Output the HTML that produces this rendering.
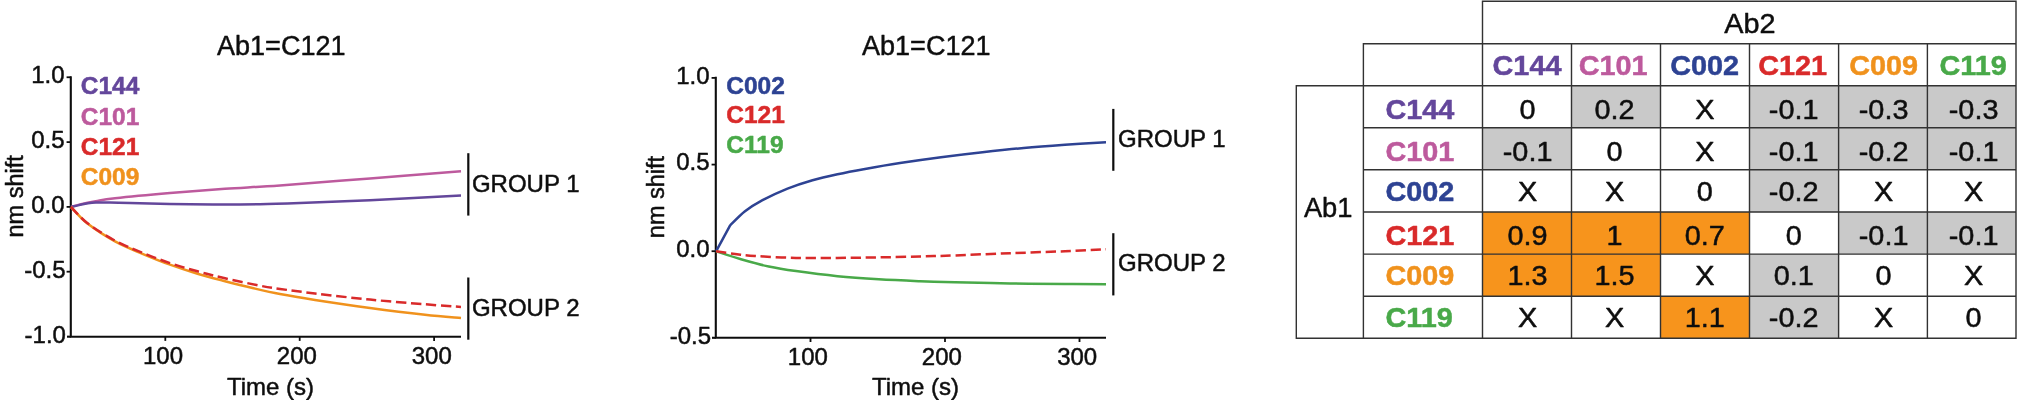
<!DOCTYPE html>
<html lang="en"><head><meta charset="utf-8"><title>Ab1=C121 competition</title>
<style>html,body{margin:0;padding:0;background:#fff;overflow:hidden;}svg{display:block}text{font-family:"Liberation Sans", Arial, Helvetica, sans-serif;stroke-width:0.5px;stroke-linejoin:round;}</style>
</head><body>
<svg width="2017" height="400" viewBox="0 0 2017 400">
<rect x="0" y="0" width="2017" height="400" fill="#ffffff"/>
<defs><filter id="soft" x="0" y="0" width="2017" height="400" filterUnits="userSpaceOnUse"><feGaussianBlur stdDeviation="0.45"/></filter></defs>
<g filter="url(#soft)">
<g id="chart-left">
<path d="M70.80,76.20 V336.70 H461.00" fill="none" stroke="#111111" stroke-width="2.1" stroke-linejoin="miter"/>
<line x1="66.60" y1="77.25" x2="70.80" y2="77.25" stroke="#111111" stroke-width="1.8"/>
<line x1="66.60" y1="142.10" x2="70.80" y2="142.10" stroke="#111111" stroke-width="1.8"/>
<line x1="66.60" y1="206.90" x2="70.80" y2="206.90" stroke="#111111" stroke-width="1.8"/>
<line x1="66.60" y1="271.70" x2="70.80" y2="271.70" stroke="#111111" stroke-width="1.8"/>
<line x1="165.30" y1="336.70" x2="165.30" y2="340.90" stroke="#111111" stroke-width="1.8"/>
<line x1="299.70" y1="336.70" x2="299.70" y2="340.90" stroke="#111111" stroke-width="1.8"/>
<line x1="434.10" y1="336.70" x2="434.10" y2="340.90" stroke="#111111" stroke-width="1.8"/>
<line x1="67.00" y1="336.70" x2="70.80" y2="336.70" stroke="#111111" stroke-width="2.1"/>
<text x="31.18" y="82.60" font-size="24" fill="#111111" stroke="#111111">1.0</text>
<text x="31.18" y="147.60" font-size="24" fill="#111111" stroke="#111111">0.5</text>
<text x="31.18" y="212.60" font-size="24" fill="#111111" stroke="#111111">0.0</text>
<text x="24.19" y="277.60" font-size="24" fill="#111111" stroke="#111111">-0.5</text>
<text x="24.59" y="342.60" font-size="24" fill="#111111" stroke="#111111">-1.0</text>
<text x="142.95" y="364.20" font-size="24" fill="#111111" stroke="#111111">100</text>
<text x="276.85" y="364.20" font-size="24" fill="#111111" stroke="#111111">200</text>
<text x="411.75" y="364.20" font-size="24" fill="#111111" stroke="#111111">300</text>
<text x="217.08" y="54.80" font-size="27" fill="#111111" stroke="#111111">Ab1=C121</text>
<text x="226.95" y="394.50" font-size="24" fill="#111111" stroke="#111111">Time (s)</text>
<text transform="translate(23.30,237.47) rotate(-90) scale(1.0000,1)" font-size="23.5" fill="#111111" stroke="#111111">nm shift</text>
<path d="M71.00,207.00 C72.50,206.57 75.88,205.37 80.00,204.40 C84.12,203.43 89.87,202.23 95.70,201.20 C101.53,200.17 102.62,199.57 115.00,198.20 C127.38,196.83 151.67,194.57 170.00,193.00 C188.33,191.43 206.67,190.07 225.00,188.80 C243.33,187.53 255.83,187.13 280.00,185.40 C304.17,183.67 339.83,180.75 370.00,178.40 C400.17,176.05 445.83,172.48 461.00,171.30" fill="none" stroke="#bd5a9d" stroke-width="2.5" stroke-linecap="butt" stroke-linejoin="round"/>
<path d="M71.00,207.00 C72.50,206.65 77.17,205.52 80.00,204.90 C82.83,204.28 85.33,203.68 88.00,203.30 C90.67,202.92 92.33,202.73 96.00,202.60 C99.67,202.47 104.33,202.45 110.00,202.50 C115.67,202.55 121.67,202.68 130.00,202.90 C138.33,203.12 150.00,203.57 160.00,203.80 C170.00,204.03 179.17,204.20 190.00,204.30 C200.83,204.40 213.33,204.42 225.00,204.40 C236.67,204.38 247.50,204.43 260.00,204.20 C272.50,203.97 281.67,203.65 300.00,203.00 C318.33,202.35 343.17,201.53 370.00,200.30 C396.83,199.07 445.83,196.38 461.00,195.60" fill="none" stroke="#64469b" stroke-width="2.5" stroke-linecap="butt" stroke-linejoin="round"/>
<path d="M71.00,207.00 C73.75,209.77 80.17,217.87 87.50,223.60 C94.83,229.33 105.83,236.37 115.00,241.40 C124.17,246.43 133.33,249.92 142.50,253.80 C151.67,257.68 160.83,261.37 170.00,264.70 C179.17,268.03 188.33,271.05 197.50,273.80 C206.67,276.55 215.83,278.83 225.00,281.20 C234.17,283.57 243.33,285.87 252.50,288.00 C261.67,290.13 269.58,292.02 280.00,294.00 C290.42,295.98 300.00,297.58 315.00,299.90 C330.00,302.22 351.67,305.43 370.00,307.90 C388.33,310.37 409.83,313.02 425.00,314.70 C440.17,316.38 455.00,317.45 461.00,318.00" fill="none" stroke="#f0921f" stroke-width="2.5" stroke-linecap="butt" stroke-linejoin="round"/>
<path d="M71.00,207.00 C73.75,209.70 80.17,217.58 87.50,223.20 C94.83,228.82 105.83,235.77 115.00,240.70 C124.17,245.63 133.33,249.07 142.50,252.80 C151.67,256.53 160.83,260.02 170.00,263.10 C179.17,266.18 188.33,268.77 197.50,271.30 C206.67,273.83 214.58,275.90 225.00,278.30 C235.42,280.70 250.83,283.93 260.00,285.70 C269.17,287.47 270.83,287.60 280.00,288.90 C289.17,290.20 300.00,291.72 315.00,293.50 C330.00,295.28 351.67,297.80 370.00,299.60 C388.33,301.40 409.83,303.08 425.00,304.30 C440.17,305.52 455.00,306.47 461.00,306.90" fill="none" stroke="#d92a2a" stroke-width="2.5" stroke-linecap="butt" stroke-linejoin="round" stroke-dasharray="10.3 4.7"/>
<text x="80.70" y="94.40" font-size="24.5" font-weight="bold" fill="#64469b" stroke="#64469b">C144</text>
<text x="80.70" y="125.30" font-size="24.5" font-weight="bold" fill="#bd5a9d" stroke="#bd5a9d">C101</text>
<text x="80.70" y="155.00" font-size="24.5" font-weight="bold" fill="#d92a2a" stroke="#d92a2a">C121</text>
<text x="80.70" y="184.80" font-size="24.5" font-weight="bold" fill="#f0921f" stroke="#f0921f">C009</text>
<line x1="468.30" y1="153.20" x2="468.30" y2="215.60" stroke="#111111" stroke-width="2.2"/>
<text x="471.90" y="191.60" font-size="24" fill="#111111" stroke="#111111">GROUP 1</text>
<line x1="468.30" y1="277.50" x2="468.30" y2="339.70" stroke="#111111" stroke-width="2.2"/>
<text x="471.90" y="316.00" font-size="24" fill="#111111" stroke="#111111">GROUP 2</text>
</g>
<g id="chart-mid">
<path d="M715.80,76.85 V337.80 H1106.00" fill="none" stroke="#111111" stroke-width="2.1" stroke-linejoin="miter"/>
<line x1="711.60" y1="77.90" x2="715.80" y2="77.90" stroke="#111111" stroke-width="1.8"/>
<line x1="711.60" y1="164.60" x2="715.80" y2="164.60" stroke="#111111" stroke-width="1.8"/>
<line x1="711.60" y1="251.20" x2="715.80" y2="251.20" stroke="#111111" stroke-width="1.8"/>
<line x1="810.50" y1="337.80" x2="810.50" y2="342.00" stroke="#111111" stroke-width="1.8"/>
<line x1="945.00" y1="337.80" x2="945.00" y2="342.00" stroke="#111111" stroke-width="1.8"/>
<line x1="1079.50" y1="337.80" x2="1079.50" y2="342.00" stroke="#111111" stroke-width="1.8"/>
<line x1="712.00" y1="337.80" x2="715.80" y2="337.80" stroke="#111111" stroke-width="2.1"/>
<text x="676.18" y="83.50" font-size="24" fill="#111111" stroke="#111111">1.0</text>
<text x="676.18" y="170.30" font-size="24" fill="#111111" stroke="#111111">0.5</text>
<text x="676.18" y="256.90" font-size="24" fill="#111111" stroke="#111111">0.0</text>
<text x="669.79" y="343.50" font-size="24" fill="#111111" stroke="#111111">-0.5</text>
<text x="787.85" y="365.30" font-size="24" fill="#111111" stroke="#111111">100</text>
<text x="921.85" y="365.30" font-size="24" fill="#111111" stroke="#111111">200</text>
<text x="1057.15" y="365.30" font-size="24" fill="#111111" stroke="#111111">300</text>
<text x="862.08" y="54.80" font-size="27" fill="#111111" stroke="#111111">Ab1=C121</text>
<text x="871.95" y="394.50" font-size="24" fill="#111111" stroke="#111111">Time (s)</text>
<text transform="translate(664.20,238.17) rotate(-90) scale(1.0000,1)" font-size="23.5" fill="#111111" stroke="#111111">nm shift</text>
<path d="M716.2,251.2 L730,225.6 C732.50,223.22 739.58,215.53 745.00,211.30 C750.42,207.07 755.42,203.98 762.50,200.20 C769.58,196.42 779.17,191.93 787.50,188.60 C795.83,185.27 804.17,182.60 812.50,180.20 C820.83,177.80 828.75,176.08 837.50,174.20 C846.25,172.32 854.58,170.77 865.00,168.90 C875.42,167.03 887.33,164.95 900.00,163.00 C912.67,161.05 927.25,159.00 941.00,157.20 C954.75,155.40 968.71,153.73 982.50,152.20 C996.29,150.67 1010.00,149.23 1023.75,148.00 C1037.50,146.77 1051.29,145.77 1065.00,144.80 C1078.71,143.83 1099.17,142.63 1106.00,142.20" fill="none" stroke="#2d4393" stroke-width="2.5" stroke-linejoin="round"/>
<path d="M716.00,251.30 C720.17,252.63 732.21,256.77 741.00,259.30 C749.79,261.83 759.58,264.53 768.75,266.50 C777.92,268.47 784.54,269.48 796.00,271.10 C807.46,272.72 823.71,274.83 837.50,276.20 C851.29,277.57 865.00,278.47 878.75,279.30 C892.50,280.13 907.29,280.70 920.00,281.20 C932.71,281.70 940.00,281.93 955.00,282.30 C970.00,282.67 991.67,283.12 1010.00,283.40 C1028.33,283.68 1049.00,283.86 1065.00,284.00 C1081.00,284.14 1099.17,284.21 1106.00,284.25" fill="none" stroke="#48a948" stroke-width="2.5" stroke-linecap="butt" stroke-linejoin="round"/>
<path d="M716.00,251.30 C719.17,251.75 728.50,253.22 735.00,254.00 C741.50,254.78 744.83,255.35 755.00,256.00 C765.17,256.65 782.25,257.58 796.00,257.90 C809.75,258.22 823.71,257.98 837.50,257.90 C851.29,257.82 865.00,257.63 878.75,257.40 C892.50,257.17 907.29,256.83 920.00,256.50 C932.71,256.17 940.00,255.95 955.00,255.40 C970.00,254.85 991.67,253.89 1010.00,253.20 C1028.33,252.51 1049.00,251.90 1065.00,251.25 C1081.00,250.60 1099.17,249.62 1106.00,249.30" fill="none" stroke="#d92a2a" stroke-width="2.5" stroke-linecap="butt" stroke-linejoin="round" stroke-dasharray="10.3 4.7"/>
<text x="726.30" y="93.50" font-size="24.5" font-weight="bold" fill="#2d4393" stroke="#2d4393">C002</text>
<text x="726.30" y="123.00" font-size="24.5" font-weight="bold" fill="#d92a2a" stroke="#d92a2a">C121</text>
<text x="726.30" y="152.60" font-size="24.5" font-weight="bold" fill="#48a948" stroke="#48a948">C119</text>
<line x1="1113.30" y1="108.90" x2="1113.30" y2="170.80" stroke="#111111" stroke-width="2.2"/>
<text x="1118.00" y="146.80" font-size="24" fill="#111111" stroke="#111111">GROUP 1</text>
<line x1="1113.30" y1="233.20" x2="1113.30" y2="295.40" stroke="#111111" stroke-width="2.2"/>
<text x="1118.00" y="270.70" font-size="24" fill="#111111" stroke="#111111">GROUP 2</text>
</g>
<g id="table">
<rect x="1571.50" y="85.80" width="89.00" height="41.90" fill="#c9c9c9"/>
<rect x="1749.50" y="85.80" width="89.10" height="41.90" fill="#c9c9c9"/>
<rect x="1838.60" y="85.80" width="88.80" height="41.90" fill="#c9c9c9"/>
<rect x="1927.40" y="85.80" width="88.60" height="41.90" fill="#c9c9c9"/>
<rect x="1482.50" y="127.70" width="89.00" height="42.10" fill="#c9c9c9"/>
<rect x="1749.50" y="127.70" width="89.10" height="42.10" fill="#c9c9c9"/>
<rect x="1838.60" y="127.70" width="88.80" height="42.10" fill="#c9c9c9"/>
<rect x="1927.40" y="127.70" width="88.60" height="42.10" fill="#c9c9c9"/>
<rect x="1749.50" y="169.80" width="89.10" height="42.20" fill="#c9c9c9"/>
<rect x="1482.50" y="212.00" width="89.00" height="42.10" fill="#f7941d"/>
<rect x="1571.50" y="212.00" width="89.00" height="42.10" fill="#f7941d"/>
<rect x="1660.50" y="212.00" width="89.00" height="42.10" fill="#f7941d"/>
<rect x="1838.60" y="212.00" width="88.80" height="42.10" fill="#c9c9c9"/>
<rect x="1927.40" y="212.00" width="88.60" height="42.10" fill="#c9c9c9"/>
<rect x="1482.50" y="254.10" width="89.00" height="42.20" fill="#f7941d"/>
<rect x="1571.50" y="254.10" width="89.00" height="42.20" fill="#f7941d"/>
<rect x="1749.50" y="254.10" width="89.10" height="42.20" fill="#c9c9c9"/>
<rect x="1660.50" y="296.30" width="89.00" height="42.00" fill="#f7941d"/>
<rect x="1749.50" y="296.30" width="89.10" height="42.00" fill="#c9c9c9"/>
<path d="M1481.80,1.30 H2016.70 M1362.70,43.75 H2016.70 M1295.60,85.80 H2016.70 M1363.40,127.70 H2016.00 M1363.40,169.80 H2016.00 M1363.40,212.00 H2016.00 M1363.40,254.10 H2016.00 M1363.40,296.30 H2016.00 M1295.60,338.30 H2016.70 M1296.30,85.80 V338.30 M1363.40,43.75 V338.30 M1482.50,1.30 V338.30 M1571.50,43.75 V338.30 M1660.50,43.75 V338.30 M1749.50,43.75 V338.30 M1838.60,43.75 V338.30 M1927.40,43.75 V338.30 M2016.00,1.30 V338.30" fill="none" stroke="#303030" stroke-width="1.4"/>
<text transform="translate(1724.24,32.60) scale(1.0300,1)" font-size="28" fill="#111111" stroke="#111111">Ab2</text>
<text transform="translate(1303.90,217.30) scale(0.9750,1)" font-size="28" fill="#111111" stroke="#111111">Ab1</text>
<text transform="translate(1492.54,74.70) scale(1.0300,1)" font-size="28" font-weight="bold" fill="#64469b" stroke="#64469b">C144</text>
<text transform="translate(1578.71,74.70) scale(1.0300,1)" font-size="28" font-weight="bold" fill="#bd5a9d" stroke="#bd5a9d">C101</text>
<text transform="translate(1670.21,74.70) scale(1.0300,1)" font-size="28" font-weight="bold" fill="#2d4393" stroke="#2d4393">C002</text>
<text transform="translate(1758.21,74.70) scale(1.0300,1)" font-size="28" font-weight="bold" fill="#d92a2a" stroke="#d92a2a">C121</text>
<text transform="translate(1849.21,74.70) scale(1.0300,1)" font-size="28" font-weight="bold" fill="#f0921f" stroke="#f0921f">C009</text>
<text transform="translate(1939.50,74.70) scale(1.0300,1)" font-size="28" font-weight="bold" fill="#48a948" stroke="#48a948">C119</text>
<text transform="translate(1385.47,119.40) scale(1.0300,1)" font-size="28" font-weight="bold" fill="#64469b" stroke="#64469b">C144</text>
<text transform="translate(1519.58,119.40) scale(1.0300,1)" font-size="28" fill="#111111" stroke="#111111">0</text>
<text transform="translate(1594.55,119.40) scale(1.0300,1)" font-size="28" fill="#111111" stroke="#111111">0.2</text>
<text transform="translate(1695.18,119.40) scale(1.0300,1)" font-size="28" fill="#111111" stroke="#111111">X</text>
<text transform="translate(1768.85,119.40) scale(1.0300,1)" font-size="28" fill="#111111" stroke="#111111">-0.1</text>
<text transform="translate(1858.75,119.40) scale(1.0300,1)" font-size="28" fill="#111111" stroke="#111111">-0.3</text>
<text transform="translate(1948.75,119.40) scale(1.0300,1)" font-size="28" fill="#111111" stroke="#111111">-0.3</text>
<text transform="translate(1385.47,160.50) scale(1.0300,1)" font-size="28" font-weight="bold" fill="#bd5a9d" stroke="#bd5a9d">C101</text>
<text transform="translate(1502.75,160.50) scale(1.0300,1)" font-size="28" fill="#111111" stroke="#111111">-0.1</text>
<text transform="translate(1606.58,160.50) scale(1.0300,1)" font-size="28" fill="#111111" stroke="#111111">0</text>
<text transform="translate(1695.18,160.50) scale(1.0300,1)" font-size="28" fill="#111111" stroke="#111111">X</text>
<text transform="translate(1768.85,160.50) scale(1.0300,1)" font-size="28" fill="#111111" stroke="#111111">-0.1</text>
<text transform="translate(1858.75,160.50) scale(1.0300,1)" font-size="28" fill="#111111" stroke="#111111">-0.2</text>
<text transform="translate(1948.75,160.50) scale(1.0300,1)" font-size="28" fill="#111111" stroke="#111111">-0.1</text>
<text transform="translate(1385.47,200.80) scale(1.0300,1)" font-size="28" font-weight="bold" fill="#2d4393" stroke="#2d4393">C002</text>
<text transform="translate(1517.98,200.80) scale(1.0300,1)" font-size="28" fill="#111111" stroke="#111111">X</text>
<text transform="translate(1604.98,200.80) scale(1.0300,1)" font-size="28" fill="#111111" stroke="#111111">X</text>
<text transform="translate(1696.78,200.80) scale(1.0300,1)" font-size="28" fill="#111111" stroke="#111111">0</text>
<text transform="translate(1768.85,200.80) scale(1.0300,1)" font-size="28" fill="#111111" stroke="#111111">-0.2</text>
<text transform="translate(1873.98,200.80) scale(1.0300,1)" font-size="28" fill="#111111" stroke="#111111">X</text>
<text transform="translate(1963.98,200.80) scale(1.0300,1)" font-size="28" fill="#111111" stroke="#111111">X</text>
<text transform="translate(1385.47,245.40) scale(1.0300,1)" font-size="28" font-weight="bold" fill="#d92a2a" stroke="#d92a2a">C121</text>
<text transform="translate(1507.55,245.40) scale(1.0300,1)" font-size="28" fill="#111111" stroke="#111111">0.9</text>
<text transform="translate(1606.58,245.40) scale(1.0300,1)" font-size="28" fill="#111111" stroke="#111111">1</text>
<text transform="translate(1684.75,245.40) scale(1.0300,1)" font-size="28" fill="#111111" stroke="#111111">0.7</text>
<text transform="translate(1785.68,245.40) scale(1.0300,1)" font-size="28" fill="#111111" stroke="#111111">0</text>
<text transform="translate(1858.75,245.40) scale(1.0300,1)" font-size="28" fill="#111111" stroke="#111111">-0.1</text>
<text transform="translate(1948.75,245.40) scale(1.0300,1)" font-size="28" fill="#111111" stroke="#111111">-0.1</text>
<text transform="translate(1385.47,285.40) scale(1.0300,1)" font-size="28" font-weight="bold" fill="#f0921f" stroke="#f0921f">C009</text>
<text transform="translate(1507.55,285.40) scale(1.0300,1)" font-size="28" fill="#111111" stroke="#111111">1.3</text>
<text transform="translate(1594.55,285.40) scale(1.0300,1)" font-size="28" fill="#111111" stroke="#111111">1.5</text>
<text transform="translate(1695.18,285.40) scale(1.0300,1)" font-size="28" fill="#111111" stroke="#111111">X</text>
<text transform="translate(1773.65,285.40) scale(1.0300,1)" font-size="28" fill="#111111" stroke="#111111">0.1</text>
<text transform="translate(1875.58,285.40) scale(1.0300,1)" font-size="28" fill="#111111" stroke="#111111">0</text>
<text transform="translate(1963.98,285.40) scale(1.0300,1)" font-size="28" fill="#111111" stroke="#111111">X</text>
<text transform="translate(1385.47,327.00) scale(1.0300,1)" font-size="28" font-weight="bold" fill="#48a948" stroke="#48a948">C119</text>
<text transform="translate(1517.98,327.00) scale(1.0300,1)" font-size="28" fill="#111111" stroke="#111111">X</text>
<text transform="translate(1604.98,327.00) scale(1.0300,1)" font-size="28" fill="#111111" stroke="#111111">X</text>
<text transform="translate(1684.75,327.00) scale(1.0300,1)" font-size="28" fill="#111111" stroke="#111111">1.1</text>
<text transform="translate(1768.85,327.00) scale(1.0300,1)" font-size="28" fill="#111111" stroke="#111111">-0.2</text>
<text transform="translate(1873.98,327.00) scale(1.0300,1)" font-size="28" fill="#111111" stroke="#111111">X</text>
<text transform="translate(1965.58,327.00) scale(1.0300,1)" font-size="28" fill="#111111" stroke="#111111">0</text>
</g>
</g>
</svg>
</body></html>
